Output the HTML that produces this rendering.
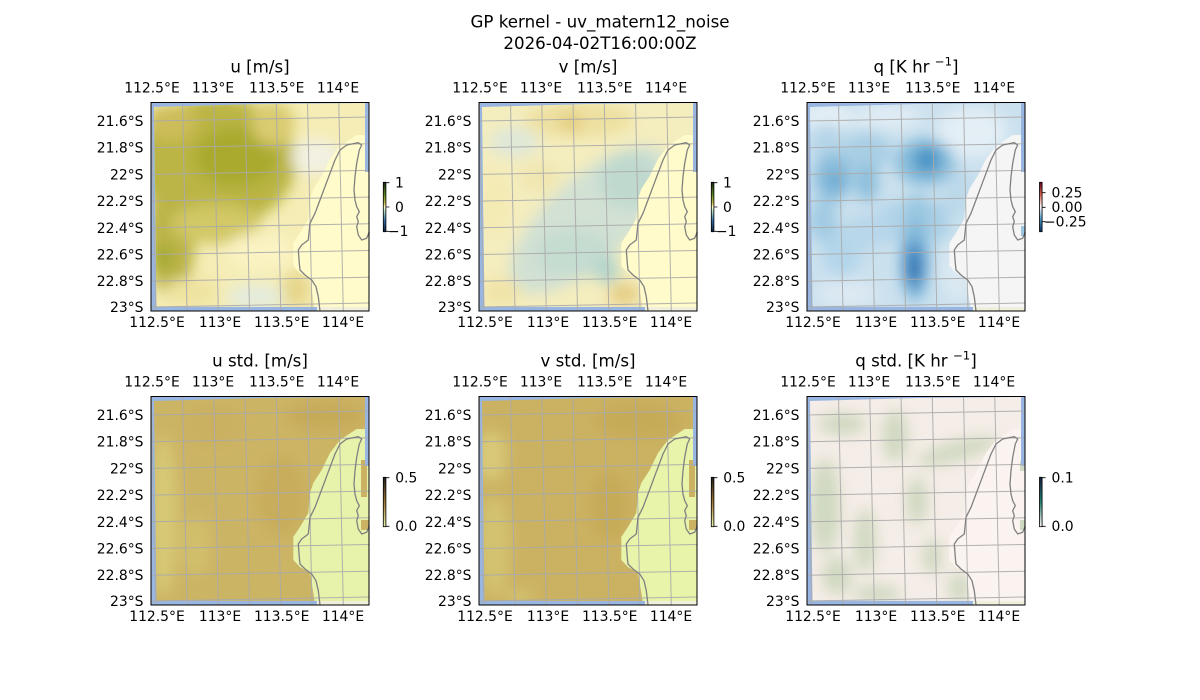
<!DOCTYPE html>
<html><head><meta charset="utf-8"><style>
html,body{margin:0;padding:0;background:#fff;}
svg{display:block;}
text{font-family:"DejaVu Sans","Liberation Sans",sans-serif;fill:#000;}
.t{font-size:16.67px;text-anchor:middle;}
.k{font-size:11.7px;}
.g{font-size:13.9px;}
.m{text-anchor:middle;}
.e{text-anchor:end;}
</style></head><body>
<svg width="1200" height="700" viewBox="0 0 1200 700" xmlns="http://www.w3.org/2000/svg">
<defs>
<clipPath id="dc"><path d="M3,5 L110,2 L214,1 L214,70 L218,70 L218,205 L5.5,204.8 Z"/></clipPath>
<clipPath id="pc"><rect x="0" y="0" width="218" height="209"/></clipPath>
<filter id="bl" filterUnits="userSpaceOnUse" x="-60" y="-60" width="340" height="330"><feGaussianBlur stdDeviation="7"/></filter>
<path id="land" d="M205.7,33 L189,44 L179,57 L170.7,74 L162.3,87 L159,97 L157.3,117 L149,131 L142.3,141 L142.3,164 L149,171 L159,177 L162.3,197 L164,207 L218,207 L218,33 Z"/>
<g id="grid" fill="none" stroke="#aaaaaa" stroke-width="1" opacity="0.9" clip-path="url(#pc)">
<path d="M0.25,0 L4.8,209 M31.5,0 L36,209 M62.75,0 L67.3,209 M94,0 L98.5,209 M125.25,0 L129.8,209 M156.5,0 L161,209 M187.75,0 L192.3,209"/>
<path d="M0,19 L218,15 M0,45.7 L218,41.7 M0,72.4 L218,68.4 M0,99.1 L218,95.1 M0,125.8 L218,121.8 M0,152.5 L218,148.5 M0,179.2 L218,175.2 M0,205 L218,201"/>
</g>
<path id="coast" fill="none" stroke="#808080" stroke-width="1.3" stroke-linejoin="round" d="M169,209 L167.3,194.7 L165,184.7 L160.7,178 L154,173 L149,168 L148.3,161.3 L147.3,148 L150.7,143 L157.3,138 L159,121.3 L164,111.3 L169,98 L174,84.7 L179,71.3 L184,58 L189,48 L195.7,43 L207.3,40.7 L210.7,43 L208.3,48 L205.7,61.3 L204,74.7 L203,88 L204,98 L205.7,104.7 L208.3,109.7 L205.7,114.7 L207.3,119.7 L205.7,124.7 L207.3,133 L210.7,138 L215.7,136.3 L218.3,129.7"/>
<g id="bg"><rect width="218" height="209" fill="#98b6e1"/><rect x="166" y="204.5" width="52" height="4.5" fill="#efefdb"/></g>
<linearGradient id="gd" x1="0" y1="0" x2="0" y2="1">
<stop offset="0" stop-color="#17250e"/><stop offset="0.25" stop-color="#5a8e20"/><stop offset="0.42" stop-color="#c9bb4c"/><stop offset="0.5" stop-color="#fffdcd"/><stop offset="0.6" stop-color="#a9d3cb"/><stop offset="0.78" stop-color="#2f6fab"/><stop offset="1" stop-color="#112040"/>
</linearGradient>
<linearGradient id="gq" x1="0" y1="0" x2="0" y2="1">
<stop offset="0" stop-color="#67001f"/><stop offset="0.25" stop-color="#d6604d"/><stop offset="0.5" stop-color="#f7f7f7"/><stop offset="0.75" stop-color="#4393c3"/><stop offset="1" stop-color="#053061"/>
</linearGradient>
<linearGradient id="gt" x1="0" y1="0" x2="0" y2="1">
<stop offset="0" stop-color="#221f1b"/><stop offset="0.5" stop-color="#a3763a"/><stop offset="1" stop-color="#e9f6ab"/>
</linearGradient>
<linearGradient id="gm" x1="0" y1="0" x2="0" y2="1">
<stop offset="0" stop-color="#151d44"/><stop offset="0.5" stop-color="#1f7f70"/><stop offset="1" stop-color="#fff6f4"/>
</linearGradient>
</defs>
<rect width="1200" height="700" fill="#fff"/>

<text class="t" x="600" y="27.5">GP kernel - uv_matern12_noise</text>
<text class="t" x="600" y="49">2026-04-02T16:00:00Z</text>

<!-- Panel 1: u -->
<g transform="translate(151,102)">
<use href="#bg"/>
<g clip-path="url(#dc)">
<rect width="218" height="209" fill="#f5edb5"/>
<g filter="url(#bl)">
<ellipse cx="65" cy="60" rx="80" ry="65" fill="#bbb544"/>
<ellipse cx="85" cy="55" rx="42" ry="30" fill="#a9aa2e"/>
<ellipse cx="20" cy="20" rx="25" ry="18" fill="#cdbd5a"/>
<ellipse cx="20" cy="135" rx="24" ry="62" fill="#bbb446"/>
<ellipse cx="12" cy="155" rx="7" ry="12" fill="#9aa628"/>
<ellipse cx="65" cy="122" rx="45" ry="20" fill="#d2c866"/>
<ellipse cx="122" cy="22" rx="22" ry="22" fill="#d9cb70"/>
<ellipse cx="165" cy="55" rx="25" ry="18" fill="#f2f1e2"/>
<ellipse cx="105" cy="195" rx="30" ry="14" fill="#e5ecdc"/>
<ellipse cx="145" cy="188" rx="14" ry="18" fill="#e6d68a"/>
<ellipse cx="40" cy="190" rx="28" ry="14" fill="#efe3a0"/>
<ellipse cx="110" cy="150" rx="35" ry="20" fill="#faf3c2"/>
</g>
<use href="#land" fill="#fffbca"/>
</g>
<use href="#grid"/><use href="#coast"/>
<rect x="0" y="0.5" width="218" height="208.5" fill="none" stroke="#000" stroke-width="1"/>
</g>

<!-- Panel 2: v -->
<g transform="translate(479,102)">
<use href="#bg"/>
<g clip-path="url(#dc)">
<rect width="218" height="209" fill="#f4edbe"/>
<g filter="url(#bl)">
<ellipse cx="110" cy="118" rx="100" ry="42" fill="#d2e1d3" transform="rotate(-42 110 118)"/>
<ellipse cx="150" cy="78" rx="30" ry="28" fill="#bfd9cf"/>
<ellipse cx="95" cy="152" rx="38" ry="24" fill="#c5dcd1"/>
<ellipse cx="128" cy="168" rx="12" ry="14" fill="#b3d4ca"/>
<ellipse cx="100" cy="18" rx="55" ry="18" fill="#eee0a0"/>
<ellipse cx="92" cy="20" rx="12" ry="9" fill="#e3cc7e"/>
<ellipse cx="35" cy="40" rx="25" ry="15" fill="#dfe8d8"/>
<ellipse cx="15" cy="100" rx="15" ry="35" fill="#f4eab3"/>
<ellipse cx="145" cy="192" rx="16" ry="12" fill="#e6cf86"/>
<ellipse cx="22" cy="190" rx="20" ry="15" fill="#f1e4a8"/>
<ellipse cx="60" cy="75" rx="20" ry="15" fill="#f0e6b0"/>
</g>
<use href="#land" fill="#fffbca"/>
</g>
<use href="#grid"/><use href="#coast"/>
<rect x="0" y="0.5" width="218" height="208.5" fill="none" stroke="#000" stroke-width="1"/>
</g>

<!-- Panel 3: q -->
<g transform="translate(807,102)">
<use href="#bg"/>
<g clip-path="url(#dc)">
<rect width="218" height="209" fill="#cbe1ee"/>
<g filter="url(#bl)">
<ellipse cx="20" cy="15" rx="25" ry="12" fill="#e8f1f6"/>
<ellipse cx="80" cy="15" rx="35" ry="12" fill="#e0ecf4"/>
<ellipse cx="165" cy="30" rx="35" ry="25" fill="#e3eef5"/>
<ellipse cx="60" cy="50" rx="25" ry="20" fill="#a9cfe5"/>
<ellipse cx="20" cy="40" rx="15" ry="20" fill="#b5d5e8"/>
<ellipse cx="150" cy="90" rx="15" ry="25" fill="#bcd9ea"/>
<ellipse cx="85" cy="120" rx="15" ry="20" fill="#b0d3e8"/>
<ellipse cx="130" cy="120" rx="12" ry="20" fill="#a9cfe5"/>
<ellipse cx="35" cy="150" rx="20" ry="25" fill="#b4d6ea"/>
<ellipse cx="118" cy="60" rx="30" ry="24" fill="#88bddc"/>
<ellipse cx="120" cy="58" rx="14" ry="14" fill="#4a94c6"/>
<ellipse cx="26" cy="75" rx="20" ry="25" fill="#8ebfdd"/>
<ellipse cx="28" cy="78" rx="8" ry="10" fill="#66a7d1"/>
<ellipse cx="60" cy="80" rx="11" ry="20" fill="#8abedc"/>
<ellipse cx="110" cy="108" rx="14" ry="16" fill="#9ac8e1"/>
<ellipse cx="108" cy="158" rx="15" ry="42" fill="#80b8da"/>
<ellipse cx="107" cy="163" rx="9" ry="24" fill="#3c85c0"/>
<ellipse cx="107" cy="168" rx="5" ry="12" fill="#2166ac"/>
<ellipse cx="40" cy="192" rx="30" ry="14" fill="#dde9f2"/>
<ellipse cx="150" cy="170" rx="15" ry="30" fill="#dbe9f2"/>
<ellipse cx="16" cy="118" rx="14" ry="22" fill="#a0cbe3"/>
<ellipse cx="60" cy="130" rx="25" ry="18" fill="#b8d7ea"/>
</g>
<use href="#land" fill="#f5f5f5"/>
<rect x="214" y="124" width="4" height="10" fill="#9cc7e0"/>
</g>
<use href="#grid"/><use href="#coast"/>
<rect x="0" y="0.5" width="218" height="208.5" fill="none" stroke="#000" stroke-width="1"/>
</g>

<!-- Panel 4: u std -->
<g transform="translate(151,396)">
<use href="#bg"/>
<g clip-path="url(#dc)">
<rect width="218" height="209" fill="#ccb465"/>
<g filter="url(#bl)">
<ellipse cx="12" cy="120" rx="14" ry="80" fill="#d7c976"/>
<ellipse cx="45" cy="150" rx="15" ry="30" fill="#d1bf6c"/>
<ellipse cx="175" cy="20" rx="40" ry="15" fill="#c6aa58"/>
<ellipse cx="130" cy="100" rx="25" ry="40" fill="#c8ad5c"/>
<ellipse cx="60" cy="30" rx="30" ry="20" fill="#cab060"/>
</g>
<use href="#land" fill="#e7f3aa"/>
<rect x="210" y="64" width="6" height="37" fill="#cbb262"/>
<rect x="210" y="124" width="8" height="10" fill="#cbb262"/>
</g>
<use href="#grid"/><use href="#coast"/>
<rect x="0" y="0.5" width="218" height="208.5" fill="none" stroke="#000" stroke-width="1"/>
</g>

<!-- Panel 5: v std -->
<g transform="translate(479,396)">
<use href="#bg"/>
<g clip-path="url(#dc)">
<rect width="218" height="209" fill="#cbb262"/>
<g filter="url(#bl)">
<ellipse cx="12" cy="60" rx="16" ry="25" fill="#d8c978"/>
<ellipse cx="15" cy="150" rx="16" ry="50" fill="#d3c370"/>
<ellipse cx="160" cy="25" rx="45" ry="18" fill="#c6aa58"/>
<ellipse cx="130" cy="110" rx="20" ry="35" fill="#c6aa59"/>
<ellipse cx="40" cy="200" rx="15" ry="6" fill="#d4c672"/>
</g>
<use href="#land" fill="#e8f4aa"/>
<rect x="210" y="64" width="6" height="37" fill="#cbb262"/>
<rect x="210" y="124" width="8" height="10" fill="#cbb262"/>
</g>
<use href="#grid"/><use href="#coast"/>
<rect x="0" y="0.5" width="218" height="208.5" fill="none" stroke="#000" stroke-width="1"/>
</g>

<!-- Panel 6: q std -->
<g transform="translate(807,396)">
<use href="#bg"/>
<g clip-path="url(#dc)">
<rect width="218" height="209" fill="#f5ede7"/>
<g filter="url(#bl)" fill="#d0d9c1">
<ellipse cx="35" cy="28" rx="24" ry="11"/>
<ellipse cx="88" cy="40" rx="13" ry="26"/>
<ellipse cx="18" cy="110" rx="15" ry="48"/>
<ellipse cx="58" cy="145" rx="11" ry="32"/>
<ellipse cx="70" cy="198" rx="24" ry="9"/>
<ellipse cx="150" cy="55" rx="42" ry="10" transform="rotate(-15 150 55)"/>
<ellipse cx="110" cy="105" rx="11" ry="24"/>
<ellipse cx="152" cy="192" rx="11" ry="15"/>
<ellipse cx="30" cy="180" rx="15" ry="19"/>
<ellipse cx="125" cy="160" rx="10" ry="18"/>
</g>
<use href="#land" fill="#fbf3f0"/>
<rect x="213" y="65" width="5" height="10" fill="#cfd9c2"/>
<rect x="213" y="124" width="5" height="10" fill="#cfd9c2"/>
</g>
<use href="#grid"/><use href="#coast"/>
<rect x="0" y="0.5" width="218" height="208.5" fill="none" stroke="#000" stroke-width="1"/>
</g>

<!-- Titles -->
<text class="t" x="260" y="72.5">u [m/s]</text>
<text class="t" x="588" y="72.5">v [m/s]</text>
<text class="t" x="916" y="72.5">q [K hr <tspan font-size="11.7" dy="-7">−1</tspan><tspan dy="7">]</tspan></text>
<text class="t" x="260" y="366.5">u std. [m/s]</text>
<text class="t" x="588" y="366.5">v std. [m/s]</text>
<text class="t" x="916" y="366.5">q std. [K hr <tspan font-size="11.7" dy="-7">−1</tspan><tspan dy="7">]</tspan></text>

<!-- Geo tick labels -->
<g class="g">
<!-- Row 1 top -->
<text class="m" x="152" y="92.5">112.5°E</text><text class="m" x="213" y="92.5">113°E</text><text class="m" x="276.7" y="92.5">113.5°E</text><text class="m" x="338" y="92.5">114°E</text>
<text class="m" x="480" y="92.5">112.5°E</text><text class="m" x="541" y="92.5">113°E</text><text class="m" x="604.7" y="92.5">113.5°E</text><text class="m" x="666" y="92.5">114°E</text>
<text class="m" x="808" y="92.5">112.5°E</text><text class="m" x="869" y="92.5">113°E</text><text class="m" x="932.7" y="92.5">113.5°E</text><text class="m" x="994" y="92.5">114°E</text>
<!-- Row 1 bottom -->
<text class="m" x="157" y="327">112.5°E</text><text class="m" x="220" y="327">113°E</text><text class="m" x="281.7" y="327">113.5°E</text><text class="m" x="343" y="327">114°E</text>
<text class="m" x="485" y="327">112.5°E</text><text class="m" x="548" y="327">113°E</text><text class="m" x="609.7" y="327">113.5°E</text><text class="m" x="671" y="327">114°E</text>
<text class="m" x="813" y="327">112.5°E</text><text class="m" x="876" y="327">113°E</text><text class="m" x="937.7" y="327">113.5°E</text><text class="m" x="999" y="327">114°E</text>
<!-- Row 2 top -->
<text class="m" x="152" y="386.5">112.5°E</text><text class="m" x="213" y="386.5">113°E</text><text class="m" x="276.7" y="386.5">113.5°E</text><text class="m" x="338" y="386.5">114°E</text>
<text class="m" x="480" y="386.5">112.5°E</text><text class="m" x="541" y="386.5">113°E</text><text class="m" x="604.7" y="386.5">113.5°E</text><text class="m" x="666" y="386.5">114°E</text>
<text class="m" x="808" y="386.5">112.5°E</text><text class="m" x="869" y="386.5">113°E</text><text class="m" x="932.7" y="386.5">113.5°E</text><text class="m" x="994" y="386.5">114°E</text>
<!-- Row 2 bottom -->
<text class="m" x="157" y="621">112.5°E</text><text class="m" x="220" y="621">113°E</text><text class="m" x="281.7" y="621">113.5°E</text><text class="m" x="343" y="621">114°E</text>
<text class="m" x="485" y="621">112.5°E</text><text class="m" x="548" y="621">113°E</text><text class="m" x="609.7" y="621">113.5°E</text><text class="m" x="671" y="621">114°E</text>
<text class="m" x="813" y="621">112.5°E</text><text class="m" x="876" y="621">113°E</text><text class="m" x="937.7" y="621">113.5°E</text><text class="m" x="999" y="621">114°E</text>

<g class="e">
<text x="143.5" y="126">21.6°S</text><text x="143.5" y="152.7">21.8°S</text><text x="143.5" y="179.4">22°S</text><text x="143.5" y="206.1">22.2°S</text><text x="143.5" y="232.8">22.4°S</text><text x="143.5" y="259.5">22.6°S</text><text x="143.5" y="286.2">22.8°S</text><text x="143.5" y="312">23°S</text>
<text x="471.5" y="126">21.6°S</text><text x="471.5" y="152.7">21.8°S</text><text x="471.5" y="179.4">22°S</text><text x="471.5" y="206.1">22.2°S</text><text x="471.5" y="232.8">22.4°S</text><text x="471.5" y="259.5">22.6°S</text><text x="471.5" y="286.2">22.8°S</text><text x="471.5" y="312">23°S</text>
<text x="799.5" y="126">21.6°S</text><text x="799.5" y="152.7">21.8°S</text><text x="799.5" y="179.4">22°S</text><text x="799.5" y="206.1">22.2°S</text><text x="799.5" y="232.8">22.4°S</text><text x="799.5" y="259.5">22.6°S</text><text x="799.5" y="286.2">22.8°S</text><text x="799.5" y="312">23°S</text>
<text x="143.5" y="420">21.6°S</text><text x="143.5" y="446.7">21.8°S</text><text x="143.5" y="473.4">22°S</text><text x="143.5" y="500.1">22.2°S</text><text x="143.5" y="526.8">22.4°S</text><text x="143.5" y="553.5">22.6°S</text><text x="143.5" y="580.2">22.8°S</text><text x="143.5" y="606">23°S</text>
<text x="471.5" y="420">21.6°S</text><text x="471.5" y="446.7">21.8°S</text><text x="471.5" y="473.4">22°S</text><text x="471.5" y="500.1">22.2°S</text><text x="471.5" y="526.8">22.4°S</text><text x="471.5" y="553.5">22.6°S</text><text x="471.5" y="580.2">22.8°S</text><text x="471.5" y="606">23°S</text>
<text x="799.5" y="420">21.6°S</text><text x="799.5" y="446.7">21.8°S</text><text x="799.5" y="473.4">22°S</text><text x="799.5" y="500.1">22.2°S</text><text x="799.5" y="526.8">22.4°S</text><text x="799.5" y="553.5">22.6°S</text><text x="799.5" y="580.2">22.8°S</text><text x="799.5" y="606">23°S</text>
</g>
</g>

<!-- Colorbars -->
<g stroke="#000" stroke-width="0.8">
<rect x="383.3" y="182.3" width="2.6" height="49.4" fill="url(#gd)"/>
<path d="M385.9,182.7 h3.5 M385.9,207 h3.5 M385.9,231.3 h3.5"/>
<rect x="711.3" y="182.3" width="2.6" height="49.4" fill="url(#gd)"/>
<path d="M713.9,182.7 h3.5 M713.9,207 h3.5 M713.9,231.3 h3.5"/>
<rect x="1039.5" y="182.3" width="2.6" height="49.4" fill="url(#gq)"/>
<path d="M1042.1,192.7 h3.5 M1042.1,207.3 h3.5 M1042.1,221.7 h3.5"/>
<rect x="383.3" y="477.3" width="2.6" height="49.4" fill="url(#gt)"/>
<path d="M385.9,477.7 h3.5 M385.9,526.3 h3.5"/>
<rect x="711.3" y="477.3" width="2.6" height="49.4" fill="url(#gt)"/>
<path d="M713.9,477.7 h3.5 M713.9,526.3 h3.5"/>
<rect x="1039.5" y="477.3" width="2.6" height="49.4" fill="url(#gm)"/>
<path d="M1042.1,477.7 h3.5 M1042.1,526.3 h3.5"/>
</g>
<g class="g">
<text x="395" y="187.5">1</text><text x="395" y="211.8">0</text><text x="388" y="236">−1</text>
<text x="723" y="187.5">1</text><text x="723" y="211.8">0</text><text x="716" y="236">−1</text>
<text x="1051.5" y="197.5">0.25</text><text x="1051.5" y="212">0.00</text><text x="1044" y="226.5">−0.25</text>
<text x="395.2" y="482.5">0.5</text><text x="395.2" y="531">0.0</text>
<text x="723.2" y="482.5">0.5</text><text x="723.2" y="531">0.0</text>
<text x="1051.5" y="482.5">0.1</text><text x="1051.5" y="531">0.0</text>
</g>
</svg>
</body></html>
